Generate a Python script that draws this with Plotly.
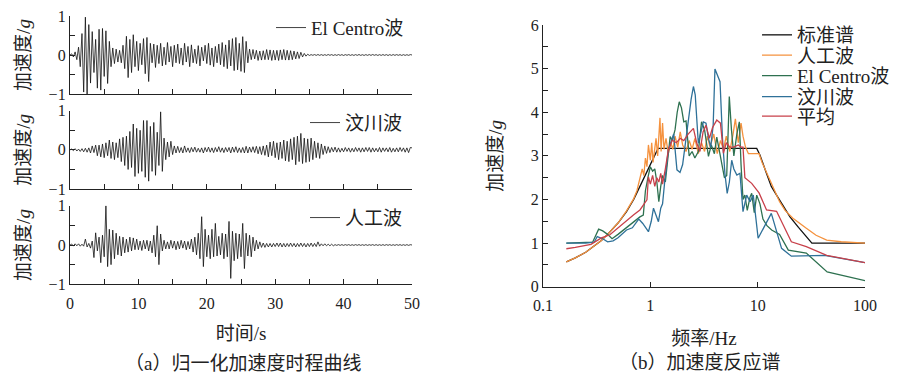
import plotly.graph_objects as go

# ---------------- data ----------------
dt = 0.25  # sampling step of the digitised time histories (s)

elcentro = [
    0.00, 0.03, -0.05, 0.08,   -0.12, 0.20, -0.30, 0.55,   -0.95, 0.97, -1.00, 0.78,
    -0.72, 0.60, -0.45, 0.40,  -0.85, 0.66, -0.90, 0.68,   -0.55, 0.62, -0.73, 0.35,
    -0.30, 0.18, -0.22, 0.15,  -0.18, 0.12, -0.20, 0.25,   -0.35, 0.48, -0.58, 0.40,
    -0.45, 0.52, -0.30, 0.35,  -0.40, 0.30, -0.25, 0.42,   -0.48, 0.45, -0.68, 0.30,
    -0.20, 0.28, -0.32, 0.25,  -0.22, 0.30, -0.28, 0.20,   -0.25, 0.32, -0.18, 0.22,
    -0.30, 0.25, -0.20, 0.28,  -0.22, 0.18, -0.26, 0.30,   -0.18, 0.22, -0.30, 0.26,
    -0.20, 0.15, -0.22, 0.24,  -0.28, 0.20, -0.15, 0.25,   -0.22, 0.30, -0.26, 0.18,
    -0.30, 0.22, -0.20, 0.28,  -0.25, 0.32, -0.30, 0.26,   -0.35, 0.38, -0.28, 0.42,
    -0.40, 0.45, -0.38, 0.30,  -0.42, 0.47, -0.45, 0.35,   -0.20, 0.15, -0.12, 0.14,
    -0.10, 0.12, -0.14, 0.10,  -0.13, 0.11, -0.12, 0.14,   -0.12, 0.13, -0.14, 0.12,
    -0.13, 0.12, -0.14, 0.13,  -0.12, 0.14, -0.13, 0.12,   -0.13, 0.11, -0.12, 0.10,
    -0.10, 0.08, -0.09, 0.07,  -0.05, 0.04, -0.03, 0.02,   -0.012, 0.010, -0.008, 0.011,
    -0.010, 0.012, -0.009, 0.010, -0.011, 0.009, -0.010, 0.012, -0.008, 0.010, -0.011, 0.009,
    -0.010, 0.011, -0.009, 0.010, -0.012, 0.010, -0.008, 0.011, -0.010, 0.009, -0.011, 0.010,
    -0.009, 0.012, -0.010, 0.008, -0.011, 0.010, -0.009, 0.011, -0.010, 0.012, -0.008, 0.010,
    -0.011, 0.009, -0.010, 0.011, -0.009, 0.010, -0.012, 0.010, -0.010, 0.011, -0.009, 0.010,
    -0.008, 0.010, -0.011, 0.009, -0.010, 0.008, -0.009, 0.010, 0.00,
]

wenchuan = [
    0.00, 0.02, -0.02, 0.03,   -0.03, 0.02, -0.04, 0.03,   -0.05, 0.04, -0.06, 0.05,
    -0.08, 0.10, -0.07, 0.12,  -0.15, 0.12, -0.18, 0.15,   -0.20, 0.18, -0.15, 0.25,
    -0.22, 0.20, -0.25, 0.18,  -0.20, 0.28, -0.30, 0.32,   -0.40, 0.35, -0.50, 0.47,
    -0.45, 0.66, -0.68, 0.55,  -0.60, 0.50, -0.55, 0.75,   -0.70, 0.75, -0.80, 0.60,
    -0.55, 0.70, -0.65, 0.45,  -0.40, 0.97, -0.55, 0.30,   -0.25, 0.20, -0.18, 0.22,
    -0.12, 0.10, -0.08, 0.09,  -0.07, 0.06, -0.08, 0.10,   -0.06, 0.05, -0.07, 0.06,
    -0.05, 0.07, -0.06, 0.04,  -0.06, 0.05, -0.08, 0.06,   -0.05, 0.07, -0.06, 0.05,
    -0.07, 0.06, -0.05, 0.08,  -0.06, 0.05, -0.07, 0.06,   -0.05, 0.06, -0.08, 0.07,
    -0.06, 0.08, -0.07, 0.05,  -0.07, 0.06, -0.08, 0.09,   -0.08, 0.07, -0.06, 0.08,
    -0.07, 0.09, -0.10, 0.08,  -0.12, 0.10, -0.14, 0.12,   -0.18, 0.20, -0.15, 0.22,
    -0.20, 0.18, -0.25, 0.20,  -0.22, 0.25, -0.28, 0.22,   -0.30, 0.28, -0.25, 0.32,
    -0.38, 0.35, -0.30, 0.42,  -0.35, 0.30, -0.32, 0.28,   -0.30, 0.30, -0.25, 0.22,
    -0.20, 0.18, -0.22, 0.15,  -0.12, 0.10, -0.09, 0.08,   -0.07, 0.06, -0.05, 0.07,
    -0.06, 0.05, -0.06, 0.04,  -0.05, 0.06, -0.04, 0.05,   -0.06, 0.04, -0.05, 0.06,
    -0.04, 0.05, -0.06, 0.05,  -0.05, 0.06, -0.04, 0.06,   -0.06, 0.05, -0.05, 0.04,
    -0.05, 0.06, -0.06, 0.05,  -0.04, 0.05, -0.05, 0.06,   -0.06, 0.04, -0.05, 0.05,
    -0.05, 0.06, -0.04, 0.05,  -0.06, 0.05, -0.07, 0.06,   0.05,
]

artificial = [
    0.00, 0.02, -0.02, 0.03,   -0.02, 0.03, -0.03, 0.02,   -0.03, 0.15, -0.05, 0.04,
    -0.08, 0.10, -0.32, 0.31,  -0.15, 0.20, -0.45, 0.25,   -0.30, 1.00, -0.55, 0.40,
    -0.50, 0.38, -0.35, 0.30,  -0.25, 0.22, -0.28, 0.20,   -0.20, 0.15, -0.18, 0.20,
    -0.15, 0.18, -0.12, 0.15,  -0.12, 0.10, -0.14, 0.12,   -0.10, 0.12, -0.15, 0.10,
    -0.20, 0.25, -0.30, 0.49,  -0.50, 0.28, -0.15, 0.12,   -0.10, 0.08, -0.10, 0.12,
    -0.08, 0.10, -0.12, 0.09,  -0.10, 0.12, -0.08, 0.10,   -0.12, 0.09, -0.10, 0.15,
    -0.18, 0.20, -0.25, 0.30,  -0.35, 0.72, -0.55, 0.40,   -0.30, 0.25, -0.35, 0.40,
    -0.30, 0.55, -0.28, 0.22,  -0.25, 0.30, -0.35, 0.28,   -0.30, 0.60, -0.85, 0.35,
    -0.40, 0.30, -0.35, 0.28,  -0.30, 0.55, -0.60, 0.30,   -0.28, 0.25, -0.30, 0.20,
    -0.15, 0.12, -0.10, 0.08,  -0.06, 0.05, -0.06, 0.04,   -0.05, 0.04, -0.05, 0.04,
    -0.04, 0.05, -0.04, 0.05,  -0.05, 0.04, -0.05, 0.04,   -0.04, 0.05, -0.04, 0.04,
    -0.05, 0.04, -0.04, 0.05,  -0.04, 0.04, -0.05, 0.04,   -0.04, 0.05, -0.04, 0.04,
    -0.04, 0.08, -0.03, 0.03,  -0.02, 0.03, -0.02, 0.02,   -0.02, 0.02, -0.02, 0.01,
    -0.01, 0.01, -0.01, 0.01,  -0.01, 0.01, -0.008, 0.01,  -0.01, 0.008, -0.01, 0.01,
    -0.008, 0.01, -0.01, 0.008, -0.01, 0.01, -0.01, 0.008, -0.008, 0.01, -0.01, 0.01,
    -0.01, 0.008, -0.01, 0.01, -0.01, 0.01, -0.008, 0.01, -0.01, 0.008, -0.01, 0.01,
    -0.008, 0.01, -0.01, 0.008, -0.01, 0.01, -0.01, 0.008, 0.00,
]

time_names = ["El Centro波", "汶川波", "人工波"]

# response spectra (frequency in Hz, acceleration in g)
f_std = [0.165, 0.2, 0.25, 0.3, 0.35, 0.4, 0.5, 0.6, 0.7, 0.8, 0.9, 1.0, 1.1, 1.18,
         9.8, 10.5, 12, 13.4, 15, 17, 20, 24, 28, 32, 100]
v_std = [0.57, 0.66, 0.79, 0.93, 1.06, 1.20, 1.46, 1.72, 2.00, 2.30, 2.56, 2.80, 3.02, 3.17,
         3.17, 3.02, 2.62, 2.30, 2.10, 1.88, 1.60, 1.36, 1.17, 1.00, 1.00]

f_art = [0.165, 0.2, 0.25, 0.3, 0.35, 0.4, 0.5, 0.6, 0.7, 0.75, 0.8, 0.84, 0.87, 0.9, 0.93,
         0.96, 1.0, 1.03, 1.06, 1.1, 1.13, 1.17, 1.2, 1.23, 1.26, 1.3, 1.34, 1.4, 1.47, 1.55,
         1.62, 1.7, 1.8, 1.9, 2.0, 2.15, 2.3, 2.45, 2.6, 2.8, 3.0, 3.2, 3.4, 3.6, 3.9, 4.2,
         4.5, 4.8, 5.1, 5.5, 5.9, 6.2, 6.6, 7.0, 7.3, 7.7, 8.2, 9.0, 10.3, 11, 12.5, 14, 16,
         18, 21.3, 28, 35, 44, 60, 100]
v_art = [0.57, 0.66, 0.79, 0.93, 1.06, 1.20, 1.46, 1.74, 2.02, 2.20, 2.45, 2.70, 2.55, 2.95,
         2.75, 3.25, 2.90, 3.30, 2.85, 3.20, 3.40, 3.00, 3.55, 3.87, 3.10, 3.75, 3.15, 3.40,
         3.05, 3.30, 3.15, 3.45, 3.20, 3.55, 3.25, 3.10, 3.35, 3.15, 3.40, 3.05, 3.30, 3.10,
         3.45, 3.20, 3.50, 3.05, 3.35, 3.15, 3.45, 3.10, 3.50, 3.85, 3.30, 3.75, 3.45, 3.20,
         3.05, 3.05, 3.05, 2.85, 2.55, 2.25, 1.95, 1.75, 1.57, 1.35, 1.18, 1.07, 1.03, 1.00]

f_ec = [0.165, 0.2, 0.25, 0.29, 0.33, 0.36, 0.4, 0.44, 0.5, 0.55, 0.6, 0.7, 0.8, 0.86, 0.9,
        0.96, 1.0, 1.05, 1.1, 1.15, 1.2, 1.25, 1.3, 1.38, 1.45, 1.53, 1.6, 1.7, 1.78, 1.86,
        1.95, 2.05, 2.15, 2.3, 2.45, 2.6, 2.8, 3.0, 3.2, 3.48, 3.7, 3.95, 4.16, 4.4, 4.65,
        4.9, 5.15, 5.44, 5.7, 6.0, 6.4, 6.75, 7.0, 7.3, 7.6, 8.0, 8.5, 8.8, 9.3, 9.8, 10.5,
        11.2, 12.2, 13.5, 16, 19.3, 28.4, 44.4, 100]
v_ec = [1.00, 1.01, 1.01, 1.02, 1.32, 1.28, 1.20, 1.10, 1.20, 1.28, 1.35, 1.50, 1.60, 1.64,
        2.20, 2.56, 2.75, 2.65, 2.70, 2.40, 1.95, 2.30, 2.55, 2.40, 2.90, 3.44, 3.35, 3.60,
        4.00, 4.24, 4.10, 3.78, 3.80, 3.00, 3.10, 2.95, 3.10, 3.78, 3.60, 2.99, 3.25, 3.05,
        3.43, 3.10, 2.75, 2.50, 2.55, 4.36, 3.60, 3.00, 3.50, 3.78, 2.80, 2.00, 2.10, 1.75,
        2.06, 2.14, 1.70, 2.10, 1.90, 1.55, 1.40, 1.30, 1.20, 0.84, 0.77, 0.34, 0.14]

f_wc = [0.165, 0.2, 0.25, 0.3, 0.32, 0.36, 0.4, 0.45, 0.5, 0.6, 0.68, 0.78, 0.85, 0.96, 1.02,
        1.07, 1.13, 1.19, 1.25, 1.3, 1.36, 1.42, 1.47, 1.55, 1.65, 1.77, 1.89, 2.0, 2.1, 2.25,
        2.4, 2.52, 2.62, 2.8, 2.95, 3.12, 3.3, 3.48, 3.65, 3.85, 4.0, 4.2, 4.46, 4.7, 4.95,
        5.2, 5.45, 5.73, 6.0, 6.4, 6.84, 7.3, 7.9, 8.5, 9.1, 10.1, 13.4, 16.7, 20.6, 42, 100]
v_wc = [1.00, 1.00, 1.00, 1.02, 1.15, 1.10, 1.03, 1.05, 1.12, 1.30, 1.35, 1.55, 1.45, 1.26,
        1.50, 1.80, 1.65, 1.49, 1.80, 1.90, 2.40, 2.80, 3.13, 3.30, 3.50, 2.68, 2.62, 2.80,
        3.20, 3.80, 4.30, 4.59, 4.40, 3.29, 3.50, 3.78, 3.75, 3.40, 3.20, 3.70, 4.99, 4.85,
        4.70, 3.40, 2.60, 2.14, 2.40, 2.90, 2.70, 2.56, 2.60, 1.72, 2.10, 1.95, 2.10, 1.11,
        1.68, 0.88, 0.70, 0.72, 0.55]

f_avg = [0.165, 0.2, 0.28, 0.35, 0.42, 0.5, 0.6, 0.7, 0.8, 0.93, 0.96, 1.0, 1.05, 1.1, 1.15,
         1.2, 1.25, 1.3, 1.38, 1.47, 1.6, 1.75, 1.9, 2.05, 2.25, 2.52, 2.7, 2.9, 3.1, 3.3,
         3.55, 3.8, 4.16, 4.5, 4.8, 5.1, 5.5, 6.0, 6.6, 7.0, 7.3, 7.6, 8.8, 10.3, 12.1, 15,
         20.6, 28.4, 44, 100]
v_avg = [0.87, 0.90, 0.97, 1.12, 1.19, 1.35, 1.53, 1.65, 1.76, 1.99, 2.52, 2.35, 2.55, 2.30,
         2.50, 2.40, 2.60, 2.35, 2.70, 3.13, 3.36, 3.30, 3.40, 3.35, 3.50, 3.63, 3.30, 3.10,
         3.55, 3.70, 3.40, 3.65, 3.82, 3.75, 3.06, 3.30, 3.20, 3.20, 3.25, 3.20, 3.20, 2.50,
         2.37, 2.15, 1.76, 1.73, 1.03, 0.92, 0.72, 0.55]

spec_names = ["标准谱", "人工波", "El Centro波", "汶川波", "平均"]
spec_colors = ["#111111", "#F5923E", "#2E7150", "#2F7199", "#C8404A"]

time_ticks = [0, 5, 10, 15, 20, 25, 30, 35, 40, 45, 50]
time_ticktext = ["0", "", "10", "", "20", "", "30", "", "40", "", "50"]
acc_ticks = [-1, -0.5, 0, 0.5, 1]
acc_ticktext = ["−1", "", "0", "", "1"]
freq_ticks = [0.1, 1, 10, 100]
freq_ticktext = ["0.1", "1", "10", "100"]
spec_yticks = [0, 0.5, 1, 1.5, 2, 2.5, 3, 3.5, 4, 4.5, 5, 5.5, 6]
spec_yticktext = ["0", "", "1", "", "2", "", "3", "", "4", "", "5", "", "6"]

# ---------------- figure ----------------
W, H = 904, 376
FONT = "Liberation Serif, Noto Sans CJK SC, serif"
AX = "#222222"


def px(v):
    return v / W


def py(v):
    return 1 - v / H


fig = go.Figure()

series = [elcentro, wenchuan, artificial]
for k, sig in enumerate(series):
    t = [i * dt for i in range(len(sig))]
    fig.add_trace(go.Scatter(
        x=t, y=sig, mode="lines", name=time_names[k],
        line=dict(color="#111111", width=0.8),
        xaxis=f"x{k + 1}", yaxis=f"y{k + 1}",
        legend=f"legend{k + 6}",
    ))

spec_f = [f_std, f_art, f_ec, f_wc, f_avg]
spec_v = [v_std, v_art, v_ec, v_wc, v_avg]
spec_legends = ["legend", "legend2", "legend3", "legend4", "legend5"]
for k in range(5):
    fig.add_trace(go.Scatter(
        x=spec_f[k], y=spec_v[k], mode="lines", name=spec_names[k],
        line=dict(color=spec_colors[k], width=1.3),
        xaxis="x4", yaxis="y4", legend=spec_legends[k],
    ))

axis_common = dict(
    showline=True, linecolor=AX, linewidth=1.3, ticks="inside", ticklen=5,
    tickwidth=1.2, tickcolor=AX, showgrid=False, zeroline=False, automargin=False,
    tickfont=dict(family=FONT, size=16, color="#222"),
)

left_dom = [px(70), px(412)]
y_doms = [[py(94), py(16)], [py(189), py(110.7)], [py(284.3), py(205.7)]]

layout = dict(
    width=W, height=H, margin=dict(l=0, r=0, t=0, b=0, autoexpand=False),
    paper_bgcolor="white", plot_bgcolor="white", showlegend=True,
    font=dict(family=FONT, size=16, color="#222"),
)

for k in range(3):
    xa = dict(axis_common, domain=left_dom, range=[0, 50], anchor=f"y{k + 1}",
              tickvals=time_ticks, ticktext=time_ticktext if k == 2 else [""] * 11,
              ticklabelstandoff=4)
    if k == 2:
        xa["title"] = dict(text="时间/s", font=dict(family=FONT, size=19), standoff=16)
    ya = dict(axis_common, domain=y_doms[k], range=[-1, 1], anchor=f"x{k + 1}",
              tickvals=acc_ticks, ticktext=acc_ticktext,
              title=dict(text="加速度/<i>g</i>", font=dict(family=FONT, size=19), standoff=12))
    layout[f"xaxis{k + 1}"] = xa
    layout[f"yaxis{k + 1}"] = ya

layout["xaxis4"] = dict(axis_common, domain=[px(543), px(865)], type="log", range=[-1, 2],
                        anchor="y4", tickvals=freq_ticks, ticktext=freq_ticktext,
                        ticklabelstandoff=4,
                        title=dict(text="频率/Hz", font=dict(family=FONT, size=19), standoff=18))
layout["yaxis4"] = dict(axis_common, domain=[py(286.7), py(25)], range=[0, 6], anchor="x4",
                        tickvals=spec_yticks, ticktext=spec_yticktext,
                        title=dict(text="加速度/<i>g</i>", font=dict(family=FONT, size=19), standoff=22))

leg_common = dict(xanchor="left", yanchor="middle", bgcolor="rgba(0,0,0,0)", borderwidth=0,
                  font=dict(family=FONT, size=19, color="#222"), tracegroupgap=0)

right_leg_y = [35, 55.3, 75.7, 96.7, 116.3]
for k in range(5):
    layout[spec_legends[k]] = dict(leg_common, x=px(757), y=py(right_leg_y[k]))

left_leg = [(271, 27.7), (305, 122.7), (305, 217.7)]
for k in range(3):
    layout[f"legend{k + 6}"] = dict(leg_common, x=px(left_leg[k][0]), y=py(left_leg[k][1]))

layout["annotations"] = [
    dict(text="（a）归一化加速度时程曲线", x=px(243), y=py(363), xref="paper", yref="paper",
         xanchor="center", yanchor="middle",
         showarrow=False, font=dict(family=FONT, size=19, color="#222")),
    dict(text="（b）加速度反应谱", x=px(700), y=py(362), xref="paper", yref="paper",
         xanchor="center", yanchor="middle",
         showarrow=False, font=dict(family=FONT, size=19, color="#222")),
]

fig.update_layout(**layout)
fig.write_html("out.html", config={"displayModeBar": False},
               post_script="document.body.style.margin='0px';")
